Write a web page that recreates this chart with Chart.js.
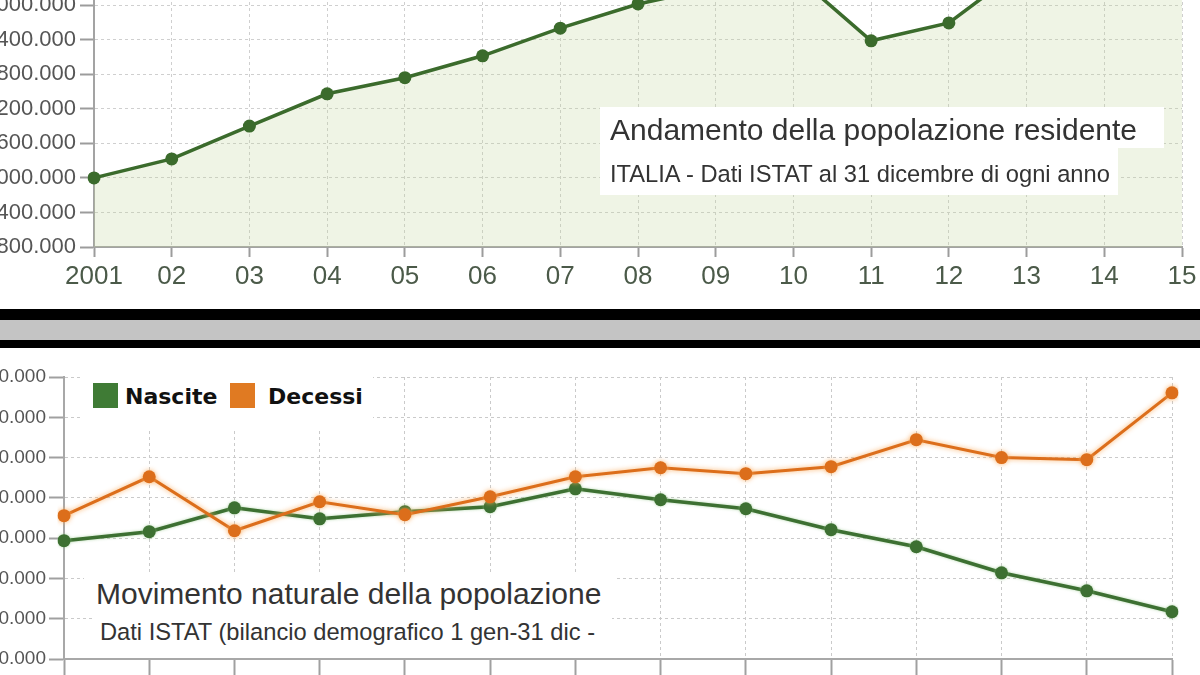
<!DOCTYPE html>
<html><head><meta charset="utf-8">
<script src="https://cdn.jsdelivr.net/npm/chart.js@4/dist/chart.umd.min.js"></script>
<style>
html,body{margin:0;padding:0;width:1200px;height:675px;overflow:hidden;background:#fff}
body{position:relative}
canvas{position:absolute}
#c1{left:-40px;top:-100px}
#c2{left:-40px;top:350px}
.wb{position:absolute;background:#fff}
.t{position:absolute;white-space:nowrap;font-family:"Liberation Sans",Arial,sans-serif;color:#333;line-height:1}
.sep{position:absolute;left:0;width:1200px}
.lg{position:absolute;white-space:nowrap;font-family:"DejaVu Sans",Verdana,sans-serif;font-weight:bold;font-size:22px;line-height:1;color:#111}
.sq{position:absolute;width:25px;height:25px}
</style>
</head><body>
<canvas id="c1" width="1280" height="400"></canvas>
<canvas id="c2" width="1280" height="400"></canvas>

<div class="wb" style="left:600px;top:107px;width:564px;height:41px"></div>
<div class="wb" style="left:600px;top:148px;width:518px;height:47px"></div>
<div class="t" id="t1" style="left:610px;top:114.5px;font-size:30px"></div>
<div class="t" id="t2" style="left:610px;top:163px;font-size:23.7px"></div>

<div class="sep" style="top:309px;height:11px;background:#000"></div>
<div class="sep" style="top:320px;height:20px;background:#c4c4c4"></div>
<div class="sep" style="top:340px;height:8px;background:#000"></div>

<div class="wb" style="left:80px;top:370px;width:293px;height:58px"></div>
<div id="legend"></div>

<div class="wb" style="left:84px;top:575px;width:533px;height:40px"></div>
<div class="wb" style="left:92px;top:615px;width:520px;height:42px"></div>
<div class="t" id="t3" style="left:96px;top:579px;font-size:30px"></div>
<div class="t" id="t4" style="left:100px;top:621px;font-size:23.7px"></div>

<script>
// ---- Data: top chart (popolazione residente al 31 dicembre) ----
const popYears = ['2001','02','03','04','05','06','07','08','09','10','11','12','13','14','15'];
const popValues = [57000000, 57330000, 57900000, 58460000, 58740000, 59120000, 59600000, 60020000, 60310000, 60550000, 59380000, 59690000, 60700000, 60800000, 60670000];
const popTickMin = 55800000;
const popTickMax = 61200000;
const popTickStep = 600000;

// ---- Data: bottom chart (movimento naturale) ----
const natYears = ['2002','03','04','05','06','07','08','09','10','11','12','13','14','15'];
const nascite = [538100, 544800, 562600, 554400, 559700, 563400, 576700, 568600, 561900, 546300, 533600, 514200, 500800, 485200];
const decessi = [556700, 585700, 545500, 567100, 557400, 570800, 585700, 592400, 588000, 593200, 613300, 600000, 598400, 648200];
const natSeriesLabels = ['Nascite', 'Decessi'];
const natTickMin = 450000;
const natTickMax = 660000;
const natTickStep = 30000;

// ---- Texts ----
const titleTop = 'Andamento della popolazione residente';
const subTop = 'ITALIA - Dati ISTAT al 31 dicembre di ogni anno';
const titleBottom = 'Movimento naturale della popolazione';
const subBottom = 'Dati ISTAT (bilancio demografico 1 gen-31 dic -';

document.getElementById('t1').textContent = titleTop;
document.getElementById('t2').textContent = subTop;
document.getElementById('t3').textContent = titleBottom;
document.getElementById('t4').textContent = subBottom;

const GREEN = '#3b6b2c';
const GREEN2 = '#3d7032';
const ORANGE = '#dc6e1b';
const seriesColors = [GREEN2, ORANGE];
const legendColors = ['#3f7b35', '#e07a22'];

// legend (HTML, built from series labels)
(function(){
  const lg = document.getElementById('legend');
  const sqX = [93, 230], txX = [125, 268];
  natSeriesLabels.forEach((lab, i) => {
    const s = document.createElement('div');
    s.className = 'sq';
    s.style.left = sqX[i] + 'px'; s.style.top = '383px';
    s.style.background = legendColors[i];
    lg.appendChild(s);
    const t = document.createElement('div');
    t.className = 'lg';
    t.style.left = txX[i] + 'px'; t.style.top = '386px';
    t.textContent = lab;
    lg.appendChild(t);
  });
})();

function fmt(v){ return String(Math.round(v)).replace(/\B(?=(\d{3})+(?!\d))/g, '.'); }

Chart.defaults.font.family = '"Liberation Sans", Arial, sans-serif';
Chart.defaults.animation = false;

const glowPlugin = {
  id: 'glow',
  beforeDatasetDraw(chart, args) {
    const ds = chart.data.datasets[args.index];
    chart.ctx.save();
    if (ds.glowColor) {
      chart.ctx.shadowColor = ds.glowColor;
      chart.ctx.shadowBlur = ds.glowBlur || 4;
    }
  },
  afterDatasetDraw(chart) { chart.ctx.restore(); }
};

// ---------- Top chart ----------
new Chart(document.getElementById('c1'), {
  type: 'line',
  data: {
    labels: popYears,
    datasets: [{
      label: 'Popolazione',
      data: popValues,
      borderColor: GREEN,
      backgroundColor: 'rgba(190,210,150,0.25)',
      fill: 'start',
      borderWidth: 3.5,
      pointRadius: 6.5,
      pointBackgroundColor: GREEN,
      pointBorderWidth: 0,
      tension: 0
    }]
  },
  options: {
    responsive: false,
    devicePixelRatio: 1,
    layout: { padding: { top: 36, right: 58, left: 0, bottom: 0 } },
    plugins: { legend: { display: false }, tooltip: { enabled: false } },
    scales: {
      x: {
        offset: false,
        grid: { color: '#cfcfcf', lineWidth: 1, tickColor: '#9c9c9c', tickLength: 10, tickWidth: 2 },
        border: { color: '#a3a3a3', width: 2, dash: [3, 3] },
        ticks: { color: '#4b5a49', font: { size: 26 }, padding: 4, maxRotation: 0, autoSkip: false },
        afterFit: s => { s.height = 53; }
      },
      y: {
        min: popTickMin, max: popTickMax,
        grid: { color: '#cfcfcf', lineWidth: 1, tickColor: '#9c9c9c', tickLength: 14, tickWidth: 2 },
        border: { color: '#a3a3a3', width: 2, dash: [3, 3] },
        ticks: { stepSize: popTickStep, callback: v => fmt(v), color: '#555', font: { size: 22 }, padding: 4 },
        afterFit: s => { s.width = 134; }
      }
    }
  }
});

// ---------- Bottom chart ----------
new Chart(document.getElementById('c2'), {
  type: 'line',
  data: {
    labels: natYears,
    datasets: [
      {
        label: natSeriesLabels[0],
        data: nascite,
        borderColor: seriesColors[0],
        backgroundColor: seriesColors[0],
        borderWidth: 3.5,
        pointRadius: 6.5,
        pointBackgroundColor: seriesColors[0],
        pointBorderWidth: 0,
        tension: 0,
        fill: false,
        order: 1,
        glowColor: 'rgba(150,200,140,0.7)',
        glowBlur: 3
      },
      {
        label: natSeriesLabels[1],
        data: decessi,
        borderColor: seriesColors[1],
        backgroundColor: seriesColors[1],
        borderWidth: 3,
        pointRadius: 6.5,
        pointBackgroundColor: seriesColors[1],
        pointBorderWidth: 0,
        tension: 0,
        fill: false,
        order: 0,
        glowColor: 'rgba(250,170,90,0.9)',
        glowBlur: 5
      }
    ]
  },
  options: {
    responsive: false,
    devicePixelRatio: 1,
    layout: { padding: { top: 27, right: 68, left: 0, bottom: 0 } },
    plugins: { legend: { display: false }, tooltip: { enabled: false } },
    scales: {
      x: {
        offset: false,
        grid: { color: '#cacaca', lineWidth: 1, tickColor: '#a0a0a0', tickLength: 16, tickWidth: 2 },
        border: { color: '#a8a8a8', width: 2, dash: [3, 3] },
        ticks: { color: '#555', font: { size: 20 }, padding: 4, maxRotation: 0, autoSkip: false },
        afterFit: s => { s.height = 91; }
      },
      y: {
        min: natTickMin, max: natTickMax,
        grid: { color: '#cacaca', lineWidth: 1, tickColor: '#a0a0a0', tickLength: 15, tickWidth: 2 },
        border: { color: '#a8a8a8', width: 2, dash: [3, 3] },
        ticks: { stepSize: natTickStep, callback: v => fmt(v), color: '#555', font: { size: 19 }, padding: 3 },
        afterFit: s => { s.width = 104; }
      }
    }
  },
  plugins: [glowPlugin]
});
</script>
</body></html>
